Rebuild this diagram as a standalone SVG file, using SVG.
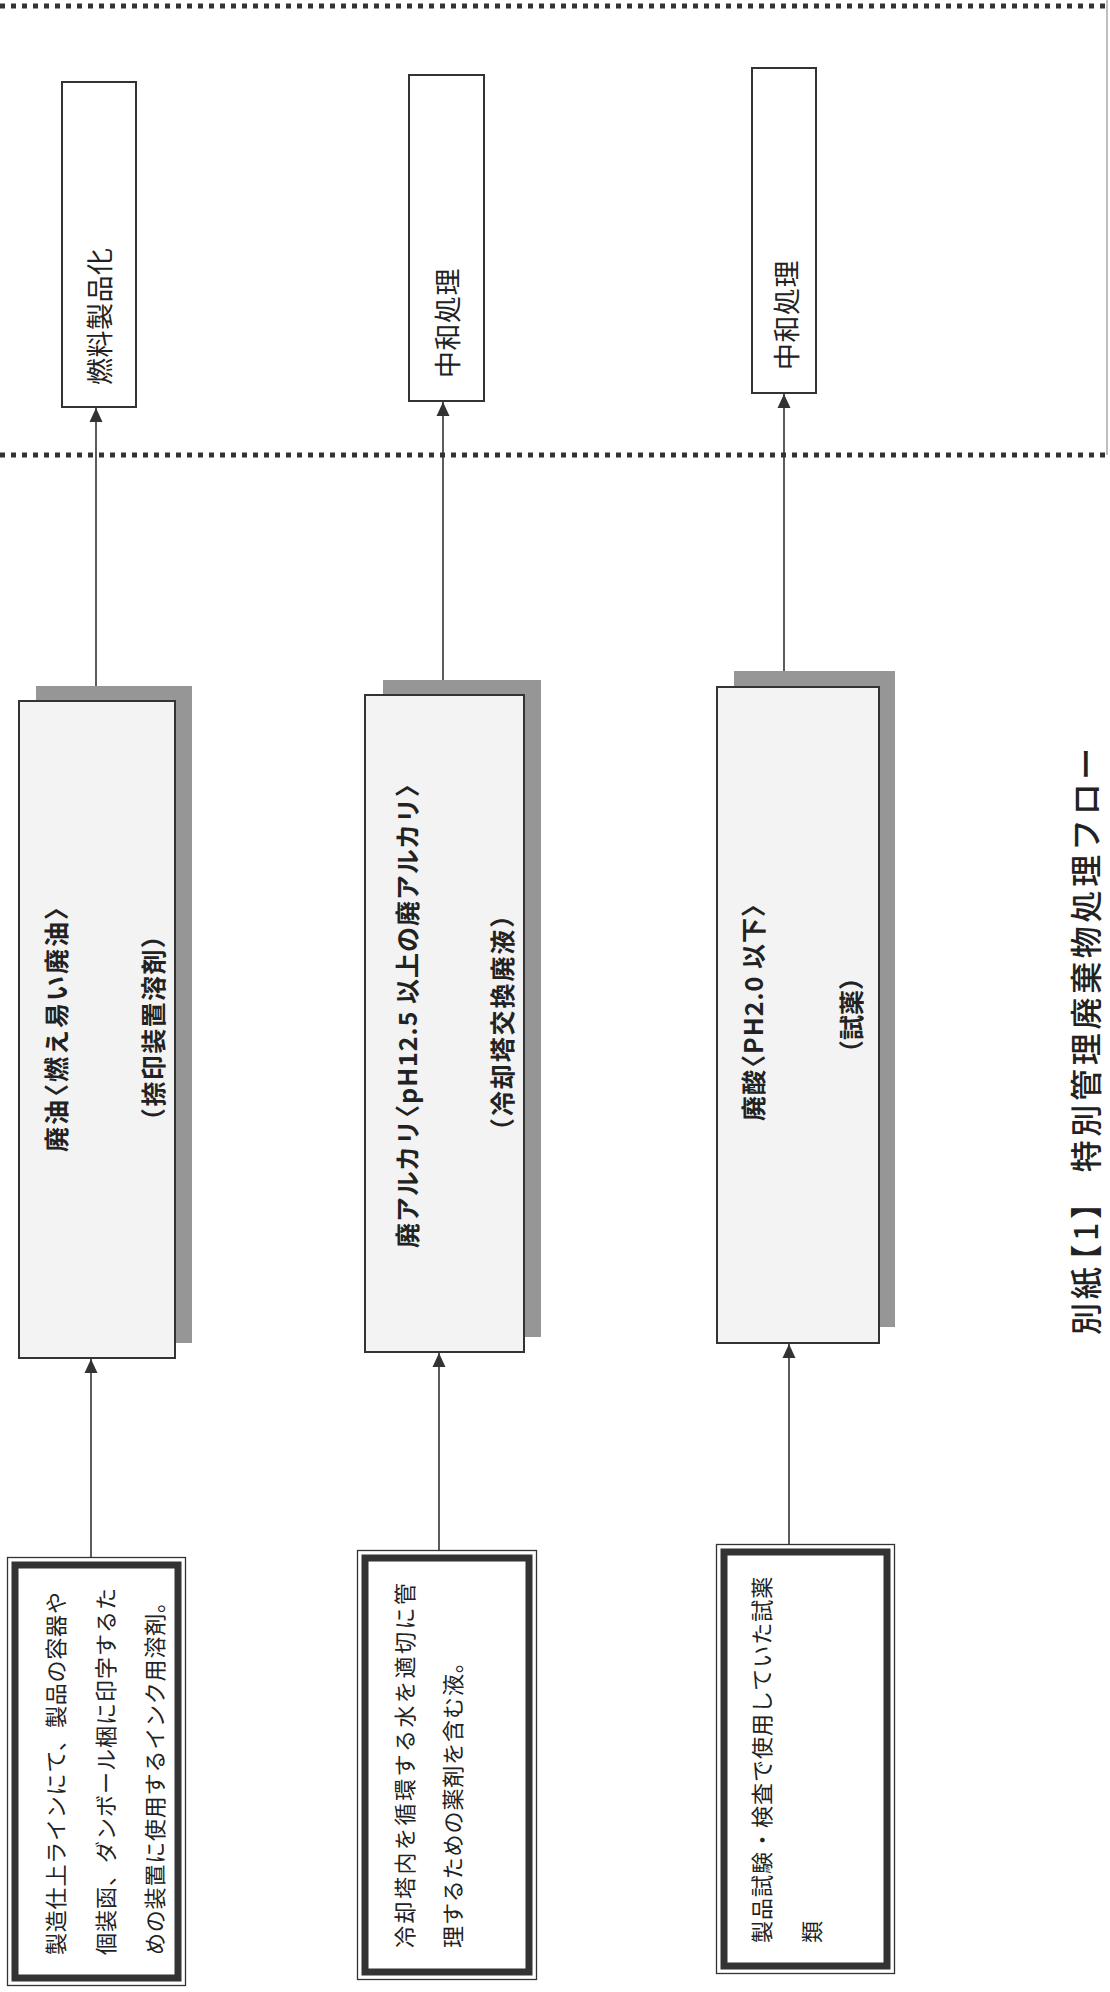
<svg xmlns="http://www.w3.org/2000/svg" width="1110" height="1992" viewBox="0 0 1110 1992">
<style>
text{font-family:"Noto Sans CJK JP","Noto Sans CJK SC",sans-serif;fill:#222;dominant-baseline:central}
.out{fill:#fff;stroke:#333;stroke-width:2}
.mid{fill:#f3f3f3;stroke:#333;stroke-width:2}
.shd{fill:#969696}
.thin{fill:none;stroke:#333;stroke-width:1.3}
.thick{fill:none;stroke:#333;stroke-width:7}
.src{fill:#fff}
.t27{font-size:27px;letter-spacing:0.5px}
.t25{font-size:25px;font-weight:bold}
.t22{font-size:22px}
.conn{stroke:#333;stroke-width:1.6;fill:none;marker-end:url(#ah)}
.dot{stroke:#333;stroke-width:5;stroke-dasharray:5 6;fill:none}
</style>
<defs>
<marker id="ah" markerWidth="14" markerHeight="14" refX="14" refY="7" orient="auto" markerUnits="userSpaceOnUse"><path d="M0,0.5 L14,7 L0,13.5 z" fill="#333"/></marker>
</defs>
<rect width="1110" height="1992" fill="#fff"/>
<g id="frame">
<line class="dot" x1="0" y1="6" x2="1110" y2="6"/>
<line class="dot" x1="0" y1="455" x2="1110" y2="455"/>
<line x1="1107" y1="0" x2="1107" y2="455" stroke="#aaa" stroke-width="1.5"/>
</g>
<g id="connectors">
<line class="conn" x1="96" y1="686" x2="96" y2="408"/>
<line class="conn" x1="443" y1="680" x2="443" y2="402"/>
<line class="conn" x1="784" y1="671" x2="784" y2="394"/>
<line class="conn" x1="91" y1="1557" x2="91" y2="1359"/>
<line class="conn" x1="439" y1="1550" x2="439" y2="1353"/>
<line class="conn" x1="789" y1="1544" x2="789" y2="1344"/>
</g>
<g id="nodeA">
<rect class="out" x="62" y="82" width="74" height="325"/>
<text class="t27" transform="translate(98,385) rotate(-90)">燃料製品化</text>
</g>
<g id="nodeB">
<rect class="out" x="409" y="75" width="75" height="326"/>
<text class="t27" transform="translate(446,378) rotate(-90)">中和処理</text>
</g>
<g id="nodeC">
<rect class="out" x="752" y="68" width="64" height="325"/>
<text class="t27" transform="translate(785,370) rotate(-90)">中和処理</text>
</g>
<g id="nodeD">
<rect class="shd" x="36" y="686" width="156" height="657"/>
<rect class="mid" x="19" y="701" width="156" height="657"/>
<text class="t25" letter-spacing="2" transform="translate(55,1152) rotate(-90)">廃油<tspan dx="-11">〈</tspan>燃え易い廃油〉</text>
<text class="t25" letter-spacing="1.4" transform="translate(152,1133) rotate(-90)">（捺印装置溶剤）</text>
</g>
<g id="nodeE">
<rect class="shd" x="383" y="680" width="158" height="657"/>
<rect class="mid" x="365" y="695" width="159" height="657"/>
<text class="t25" letter-spacing="1" transform="translate(406,1248) rotate(-90)">廃アルカリ<tspan dx="-11">〈</tspan>pH12.5 以上の廃アルカリ〉</text>
<text class="t25" letter-spacing="1.9" transform="translate(501,1143) rotate(-90)">（冷却塔交換廃液）</text>
</g>
<g id="nodeF">
<rect class="shd" x="734" y="671" width="161" height="656"/>
<rect class="mid" x="717" y="687" width="162" height="656"/>
<text class="t25" letter-spacing="1" transform="translate(752,1121) rotate(-90)">廃酸<tspan dx="-11">〈</tspan>PH2.0 以下〉</text>
<text class="t25" transform="translate(850,1065) rotate(-90)">（試薬）</text>
</g>
<g id="nodeG">
<rect class="src" x="7" y="1557" width="179" height="429"/>
<rect class="thin" x="7.5" y="1557.5" width="178" height="428"/>
<rect class="thick" x="15" y="1565" width="163" height="413"/>
<text class="t22" letter-spacing="0.8" transform="translate(54,1955) rotate(-90)">製造仕上ラインにて、製品の容器や</text>
<text class="t22" letter-spacing="1" transform="translate(104,1955) rotate(-90)">個装函、ダンボール梱に印字するた</text>
<text class="t22" letter-spacing="0.8" transform="translate(153,1955) rotate(-90)">めの装置に使用するインク用溶剤。</text>
</g>
<g id="nodeH">
<rect class="src" x="357" y="1550" width="180" height="430"/>
<rect class="thin" x="357.5" y="1550.5" width="179" height="429"/>
<rect class="thick" x="365" y="1558" width="164" height="414"/>
<text class="t22" letter-spacing="2.5" transform="translate(403,1948) rotate(-90)">冷却塔内を循環する水を適切に管</text>
<text class="t22" letter-spacing="0.9" transform="translate(451,1948) rotate(-90)">理するための薬剤を含む液。</text>
</g>
<g id="nodeI">
<rect class="src" x="716" y="1544" width="179" height="430"/>
<rect class="thin" x="716.5" y="1544.5" width="178" height="429"/>
<rect class="thick" x="724" y="1552" width="163" height="414"/>
<text class="t22" letter-spacing="1" transform="translate(760,1943) rotate(-90)">製品試験・検査で使用していた試薬</text>
<text class="t22" transform="translate(810,1943) rotate(-90)">類</text>
</g>
<g id="title">
<text transform="translate(1084,1335) rotate(-90)" font-size="32" font-weight="500" letter-spacing="3.7">別紙<tspan dx="-13">【</tspan>1】 特別管理廃棄物処理フロー</text>
</g>
</svg>
